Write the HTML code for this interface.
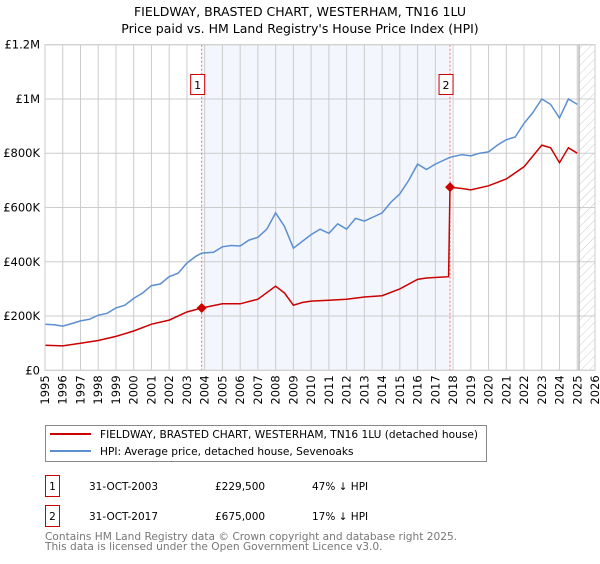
<!DOCTYPE html>
<html><head><meta charset="utf-8"><style>
body{margin:0;width:600px;height:560px;background:#fff;font-family:"DejaVu Sans","Liberation Sans",sans-serif;overflow:hidden}
svg text{font-family:"DejaVu Sans","Liberation Sans",sans-serif}
</style></head><body>
<svg id="chart" width="600" height="560" xmlns="http://www.w3.org/2000/svg">
<defs><pattern id="hatch" width="6" height="6" patternUnits="userSpaceOnUse" patternTransform="rotate(45)"><line x1="0" y1="0" x2="0" y2="6" stroke="#ccc" stroke-width="1"/></pattern></defs>
<text x="300" y="16" text-anchor="middle" font-size="12.5">FIELDWAY, BRASTED CHART, WESTERHAM, TN16 1LU</text>
<text x="300" y="33" text-anchor="middle" font-size="12.5">Price paid vs. HM Land Registry's House Price Index (HPI)</text>
<g id="plot"></g>
<g>
<rect x="45.5" y="425.5" width="441" height="36" fill="#fff" stroke="#888"/>
<line x1="50" y1="434" x2="91" y2="434" stroke="#cc0000" stroke-width="2"/>
<text x="100" y="438" font-size="10.6">FIELDWAY, BRASTED CHART, WESTERHAM, TN16 1LU (detached house)</text>
<line x1="50" y1="451" x2="91" y2="451" stroke="#5b8fd0" stroke-width="2"/>
<text x="100" y="455" font-size="10.6">HPI: Average price, detached house, Sevenoaks</text>
</g>
<g font-size="10.5">
<rect x="45.5" y="475.5" width="14" height="21" fill="#fff" stroke="#cc0000"/>
<text x="52.5" y="490" text-anchor="middle">1</text>
<text x="89" y="490">31-OCT-2003</text><text x="215" y="490">£229,500</text><text x="312" y="490">47% ↓ HPI</text>
<rect x="45.5" y="505.5" width="14" height="21" fill="#fff" stroke="#cc0000"/>
<text x="52.5" y="520" text-anchor="middle">2</text>
<text x="89" y="520">31-OCT-2017</text><text x="215" y="520">£675,000</text><text x="312" y="520">17% ↓ HPI</text>
</g>
<text x="45" y="540" font-size="10.6" fill="#777">Contains HM Land Registry data © Crown copyright and database right 2025.</text>
<text x="45" y="550" font-size="10.6" fill="#777">This data is licensed under the Open Government Licence v3.0.</text>
</svg>
<script>
const hpiYears=[1995,1995.5,1996,1996.5,1997,1997.5,1998,1998.5,1999,1999.5,2000,2000.5,2001,2001.5,2002,2002.5,2003,2003.5,2003.83,2004.5,2005,2005.5,2006,2006.5,2007,2007.5,2008,2008.5,2009,2009.5,2010,2010.5,2011,2011.5,2012,2012.5,2013,2013.5,2014,2014.5,2015,2015.5,2016,2016.5,2017,2017.83,2018.5,2019,2019.5,2020,2020.5,2021,2021.5,2022,2022.5,2023,2023.5,2024,2024.5,2025];
const hpiValues=[170,168,163,172,182,188,203,210,230,240,265,285,312,318,345,358,395,420,432,435,455,460,458,480,490,520,580,530,450,475,500,520,505,540,520,560,550,565,580,620,650,700,760,740,760,785,795,790,800,805,830,850,860,910,950,1000,980,930,1000,980];
const ppYears=[1995,1996,1997,1998,1999,2000,2001,2002,2003,2003.83,2005,2006,2007,2008,2008.5,2009,2009.5,2010,2011,2012,2013,2014,2015,2016,2016.5,2017.75,2017.83,2018.5,2019,2020,2021,2022,2023,2023.5,2024,2024.5,2025];
const ppValues=[92,90,100,110,125,145,170,185,215,229.5,245,245,262,310,285,240,250,255,258,262,270,275,300,335,340,345,675,670,665,680,705,750,830,820,765,820,800];
const sales=[{n:"1",year:2003.83,value:229.5},{n:"2",year:2017.83,value:675}];
const yTicks=[0,200,400,600,800,1000,1200];
const yLabels=["£0","£200K","£400K","£600K","£800K","£1M","£1.2M"];
const xStart=1995,xEnd=2026;
const L=45,R=595,T=44.7,B=370.3;
const X=y=>L+(y-xStart)/(xEnd-xStart)*(R-L);
const Y=v=>B-v/1200*(B-T);
const NS="http://www.w3.org/2000/svg";
const g=document.getElementById('plot');
function mk(tag,attrs,parent){const e=document.createElementNS(NS,tag);for(const k in attrs)e.setAttribute(k,attrs[k]);(parent||g).appendChild(e);return e;}
let e=mk('rect',{x:X(2003.83),y:T,width:X(2017.83)-X(2003.83),height:B-T,fill:'#f3f6fd'});


e=mk('rect',{x:X(2025.1),y:T,width:R-X(2025.1),height:B-T,fill:'url(#hatch)'});


for(let yr=xStart;yr<=xEnd;yr++){
 e=mk('line',{x1:X(yr),x2:X(yr),y1:T,y2:B,stroke:'#ccc','stroke-width':1});
 
 
 const t=mk('text',{x:0,y:0,'font-size':11.5,'text-anchor':'end',transform:`translate(${X(yr)+4},${B+5}) rotate(-90)`});
 t.textContent=yr;
 
 
}
yTicks.forEach((v,i)=>{
 e=mk('line',{x1:L,x2:R,y1:Y(v),y2:Y(v),stroke:'#ccc','stroke-width':1});
 
 
 const t=mk('text',{x:40,y:Y(v)+4,'font-size':11.5,'text-anchor':'end'});
 t.textContent=yLabels[i];
 
 
});
e=mk('line',{x1:X(2025.1),x2:X(2025.1),y1:T,y2:B,stroke:'#999','stroke-width':1});


sales.forEach(s=>{
 e=mk('line',{x1:X(s.year),x2:X(s.year),y1:T,y2:B,stroke:'#f07070','stroke-width':1,'stroke-dasharray':'2,2'});
 
 
});
function path(xs,vs){return xs.map((x,i)=>(i?'L':'M')+X(x).toFixed(1)+','+Y(vs[i]).toFixed(1)).join('');}
e=mk('path',{d:path(hpiYears,hpiValues),fill:'none',stroke:'#5b8fd0','stroke-width':1.5});


e=mk('path',{d:path(ppYears,ppValues),fill:'none',stroke:'#cc0000','stroke-width':1.5});


sales.forEach(s=>{
 const cx=X(s.year),cy=Y(s.value);
 e=mk('path',{d:`M${cx},${cy-5}L${cx+5},${cy}L${cx},${cy+5}L${cx-5},${cy}Z`,fill:'#cc0000'});
 
 
 e=mk('rect',{x:cx-11,y:74.5,width:14,height:20,fill:'#fff',stroke:'#cc0000'});
 
 
 const t=mk('text',{x:cx-4,y:89,'font-size':11,'text-anchor':'middle'});
 t.textContent=s.n;
 
 
});
e=mk('rect',{x:L,y:T,width:R-L,height:B-T,fill:'none',stroke:'#ccc'});


</script>
</body></html>
